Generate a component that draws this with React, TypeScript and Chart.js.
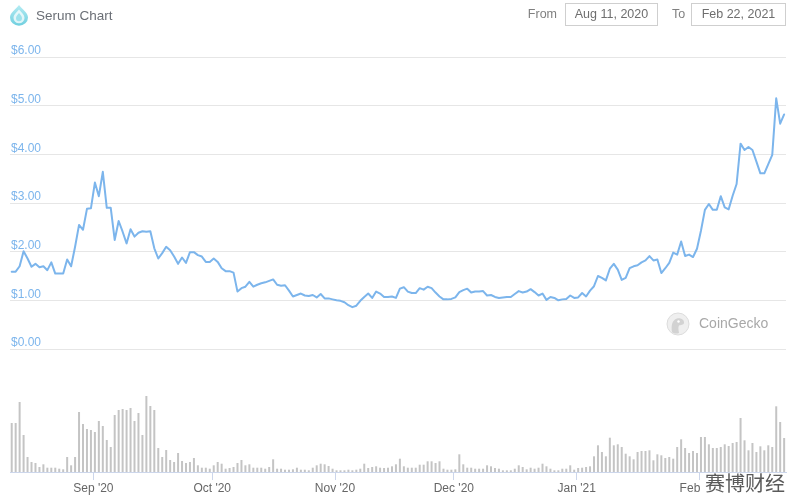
import React, { useEffect, useRef } from 'react';
import { Chart, registerables } from 'chart.js';

Chart.register(...registerables);

// ---- Data (daily, Aug 11 2020 -> Feb 22 2021) ----
const titleText = 'Serum Chart';
const fromDate = 'Aug 11, 2020';
const toDate = 'Feb 22, 2021';

// USD price, one value per day starting Aug 11, 2020
const prices: number[] = [
  1.59, 1.59, 1.70, 2.01, 1.86, 1.69, 1.75, 1.68, 1.70, 1.62,
  1.78, 1.55, 1.55, 1.55, 1.84, 1.70, 2.10, 2.55, 2.45, 2.88,
  2.89, 3.42, 3.14, 3.64, 2.90, 2.90, 2.24, 2.63, 2.41, 2.17,
  2.46, 2.31, 2.39, 2.42, 2.41, 2.42, 2.07, 1.86, 1.97, 2.10,
  2.03, 1.90, 1.75, 1.88, 1.77, 1.99, 1.99, 1.93, 1.90, 1.79,
  1.79, 1.86, 1.79, 1.66, 1.60, 1.60, 1.57, 1.18, 1.25, 1.28,
  1.38, 1.28, 1.32, 1.35, 1.37, 1.40,
  1.43, 1.32, 1.30, 1.31, 1.20, 1.08, 1.11, 1.14, 1.10, 1.09,
  1.11, 1.06, 1.13, 1.04, 1.04, 1.02, 1.00, 0.99, 0.96, 0.90,
  0.86, 0.89, 0.99, 1.07, 1.14, 1.05, 1.18, 1.14, 1.07, 1.07,
  1.08, 1.05, 1.24, 1.27, 1.18, 1.15, 1.15, 1.25, 1.22, 1.28,
  1.25, 1.16, 1.08, 1.02, 1.02, 1.03, 1.06, 1.17, 1.21, 1.24,
  1.16, 1.18, 1.18, 1.19, 1.10, 1.11, 1.07, 1.05, 1.06, 1.07,
  1.07, 1.13, 1.19, 1.16, 1.18,
  1.23, 1.17, 1.10, 1.14, 1.01, 1.07, 1.05, 1.00, 1.02, 1.03,
  1.10, 1.05, 1.06, 1.15, 1.08, 1.20, 1.29, 1.50, 1.46, 1.41,
  1.65, 1.75, 1.63, 1.42, 1.46, 1.66, 1.70, 1.72, 1.78, 1.82,
  1.91, 1.82, 1.84, 1.56, 1.66, 1.77, 1.98, 1.94, 2.21, 1.91,
  1.94, 1.89, 2.06, 2.43, 2.86, 2.98, 2.86, 2.86, 3.14, 2.91,
  2.87, 3.15, 3.39, 4.22, 4.09, 4.15, 4.09, 3.85, 3.61, 3.61,
  3.80, 3.99, 5.15, 4.63, 4.82,
];

// Trading volume (relative units), one value per day
const volumes: number[] = [
  49, 49, 70, 37, 15, 10, 9, 5, 7.7, 4.3,
  4.3, 4.3, 3.3, 2.7, 15, 6.7, 15, 60, 48, 43,
  42, 40, 51, 46, 32, 25, 57, 62, 63, 62,
  64, 51, 59, 37, 76, 66, 62, 24, 15, 22,
  12, 10, 19, 11, 9, 10, 14, 6.7, 4.3, 4.3,
  3.3, 6.7, 10, 8.3, 3.3, 4, 5, 9, 12, 6.7,
  7.7, 4.3, 4.3, 4.3, 3.3, 5, 12.7, 3.3, 3.3, 2.3,
  2.3, 2.7, 4.3, 2.3, 2.3, 1.7, 4.3, 6.7, 8.3, 7.7,
  6, 3.3, 1.7, 1.7, 1.7, 2.3, 1.7, 2.3, 3.3, 8.3,
  4, 5, 5.7, 4.3, 4, 4.3, 5.7, 7.7,
  13.3, 5.7, 4.3, 4.3, 4.3, 7.3, 7.3, 10.7, 10.7, 9,
  10.7, 3.3, 2.3, 2.3, 2.7, 17.7, 7.7, 4.3, 4.3, 3.3,
  3.3, 3.3, 6.7, 5.7, 4, 3.3, 1.7, 1.7, 1.7, 3.3,
  6.7, 5, 2.7, 4.3, 3.3, 4.3, 8.3, 5.7, 3.3, 1.7,
  1.7, 3.3, 3.3, 6.7, 2.3, 4, 4.3, 5, 5.7, 15.7,
  26.7, 20, 15.7, 34.3, 26.7, 27.7, 25, 18.3, 15.7, 12.7,
  20, 21, 21, 21.7, 11.7, 17.7, 16.7, 14, 15, 13.3,
  25, 32.7, 24, 19, 21, 19, 35, 35, 27.7, 24,
  24, 25, 27.7, 26, 29, 30, 54, 31.7, 21.7, 29,
  20, 25.7, 21.7, 26.7, 25, 65.7, 50, 34,
];

// x axis: days since Aug 11, 2020 00:00
const monthTickDays: number[] = [21, 51, 82, 112, 143, 174];
const monthTickLabels: string[] = ["Sep '20", "Oct '20", "Nov '20", "Dec '20", "Jan '21", "Feb '21"];
const priceTicks: number[] = [0, 1, 2, 3, 4, 5, 6];

// each daily sample is taken a little after midnight (fraction of a day)
const SAMPLE_OFFSET = 0.38;
const X_MIN = -0.05;
const X_MAX = 195.85;
const PRICE_MIN = -2.527;
const PRICE_MAX = 6;
const VOL_MAX = 415;

const LINE_COLOR = '#7cb5ec';
const BAR_COLOR = '#c4c4c4';
const GRID_COLOR = '#e6e6e6';
const AXIS_COLOR = '#ccd6eb';
const FONT = '"Liberation Sans", Arial, Helvetica, sans-serif';

export default function App() {
  const canvasRef = useRef<HTMLCanvasElement | null>(null);

  useEffect(() => {
    const canvas = canvasRef.current;
    if (!canvas) return;
    const chart = new Chart(canvas, {
      type: 'line',
      data: {
        datasets: [
          {
            type: 'line',
            label: 'Price',
            data: prices.map((p, i) => ({ x: i + SAMPLE_OFFSET, y: p })),
            yAxisID: 'y',
            borderColor: LINE_COLOR,
            borderWidth: 2,
            pointRadius: 0,
            tension: 0,
            borderJoinStyle: 'round',
            borderCapStyle: 'round',
            fill: false,
            order: 0,
          } as any,
          {
            type: 'bar',
            label: 'Volume',
            data: volumes.map((v, i) => ({ x: i + SAMPLE_OFFSET, y: v })),
            yAxisID: 'yVol',
            backgroundColor: BAR_COLOR,
            borderWidth: 0,
            barThickness: 2,
            inflateAmount: 0,
            order: 1,
          } as any,
        ],
      },
      options: {
        animation: false,
        responsive: false,
        maintainAspectRatio: false,
        layout: { padding: { left: 10, right: 9, top: 57, bottom: 0 } },
        plugins: {
          legend: { display: false },
          tooltip: { enabled: false },
        },
        scales: {
          x: {
            type: 'linear',
            min: X_MIN,
            max: X_MAX,
            offset: false,
            afterBuildTicks: (scale: any) => {
              scale.ticks = monthTickDays.map((d) => ({ value: d }));
            },
            afterFit: (scale: any) => {
              scale.height = 31;
            },
            ticks: {
              autoSkip: false,
              maxRotation: 0,
              padding: 1,
              color: '#666666',
              font: { family: FONT, size: 12 },
              callback: (_v: any, idx: number) => monthTickLabels[idx],
            },
            grid: {
              display: true,
              drawOnChartArea: false,
              drawTicks: true,
              tickLength: 8,
              color: AXIS_COLOR,
              offset: false,
            },
            border: { display: true, color: AXIS_COLOR, width: 1 },
          },
          y: {
            type: 'linear',
            position: 'left',
            min: PRICE_MIN,
            max: PRICE_MAX,
            afterBuildTicks: (scale: any) => {
              scale.ticks = priceTicks.map((v) => ({ value: v }));
            },
            afterFit: (scale: any) => {
              scale.width = 0;
            },
            ticks: {
              mirror: true,
              padding: 1,
              labelOffset: -6,
              color: LINE_COLOR,
              font: { family: FONT, size: 12 },
              callback: (v: any) => '$' + Number(v).toFixed(2),
            },
            grid: { color: GRID_COLOR, drawTicks: false, lineWidth: 1 },
            border: { display: false },
          },
          yVol: {
            type: 'linear',
            display: false,
            min: 0,
            max: VOL_MAX,
          },
        },
      } as any,
    });
    return () => chart.destroy();
  }, []);

  const boxStyle: React.CSSProperties = {
    position: 'absolute',
    top: 3,
    height: 23,
    boxSizing: 'border-box',
    border: '1px solid #cfcfcf',
    lineHeight: '21px',
    fontSize: 12.5,
    color: '#6e6e6e',
    textAlign: 'center',
  };
  const labelStyle: React.CSSProperties = {
    position: 'absolute',
    top: 3,
    lineHeight: '23px',
    fontSize: 12.5,
    color: '#808080',
  };

  return (
    <div
      style={{
        position: 'absolute',
        left: 0,
        top: 0,
        width: 795,
        height: 503,
        background: '#ffffff',
        overflow: 'hidden',
        fontFamily: FONT,
      }}
    >
      <canvas ref={canvasRef} width={795} height={503} style={{ position: 'absolute', left: 0, top: 0 }} />

      {/* Serum logo */}
      <svg width="20" height="22" viewBox="0 0 20 22" style={{ position: 'absolute', left: 9, top: 4 }}>
        <defs>
          <linearGradient id="serumGrad" x1="0" y1="0" x2="0" y2="1">
            <stop offset="0" stopColor="#b4ecf3" />
            <stop offset="1" stopColor="#6fcfdf" />
          </linearGradient>
        </defs>
        <path d="M10 1 C 13 5, 19 8.5, 19 13.5 A 9 8.3 0 0 1 1 13.5 C 1 8.5, 7 5, 10 1 Z" fill="url(#serumGrad)" />
        <path d="M10 5.5 C 12.2 8.5, 15.5 10.5, 15.5 14 A 5.5 5.2 0 0 1 4.5 14 C 4.5 10.5, 7.8 8.5, 10 5.5 Z" fill="#ffffff" opacity="0.75" />
        <path d="M10 9 C 11.3 11, 13 12, 13 14.2 A 3 3 0 0 1 7 14.2 C 7 12, 8.7 11, 10 9 Z" fill="#9fe2ec" />
      </svg>
      <div style={{ position: 'absolute', left: 36, top: 8, lineHeight: '16px', fontSize: 13.5, color: '#6b6f76' }}>
        {titleText}
      </div>

      <div style={{ ...labelStyle, left: 500, width: 57, textAlign: 'right' }}>From</div>
      <div style={{ ...boxStyle, left: 565, width: 93 }}>{fromDate}</div>
      <div style={{ ...labelStyle, left: 672 }}>To</div>
      <div style={{ ...boxStyle, left: 691, width: 95 }}>{toDate}</div>

      {/* CoinGecko watermark */}
      <svg width="24" height="24" viewBox="0 0 24 24" style={{ position: 'absolute', left: 666, top: 312 }}>
        <circle cx="12" cy="12" r="11" fill="#efefef" stroke="#dcdcdc" strokeWidth="1" />
        <path d="M6 20 C 5 14, 6 8, 11 6.5 C 15 5.5, 18.5 8, 18 11 C 17.5 13, 14.5 13, 13 13.5 C 12 15, 12.5 18, 13 21 C 10 22, 7.5 21.5, 6 20 Z" fill="#d2d2d2" />
        <circle cx="12.5" cy="9.5" r="1.2" fill="#ffffff" />
      </svg>
      <div style={{ position: 'absolute', left: 699, top: 315, lineHeight: '16px', fontSize: 14, color: '#a8a8a8' }}>
        CoinGecko
      </div>

      {/* source watermark */}
      <div
        style={{
          position: 'absolute',
          left: 703,
          top: 473,
          width: 84,
          height: 22,
          background: '#ffffff',
          lineHeight: '20px',
          fontSize: 20,
          color: '#5a5a5a',
          fontFamily: '"Noto Sans CJK SC", sans-serif',
          textAlign: 'center',
          whiteSpace: 'nowrap',
        }}
      >
        赛博财经
      </div>
    </div>
  );
}
